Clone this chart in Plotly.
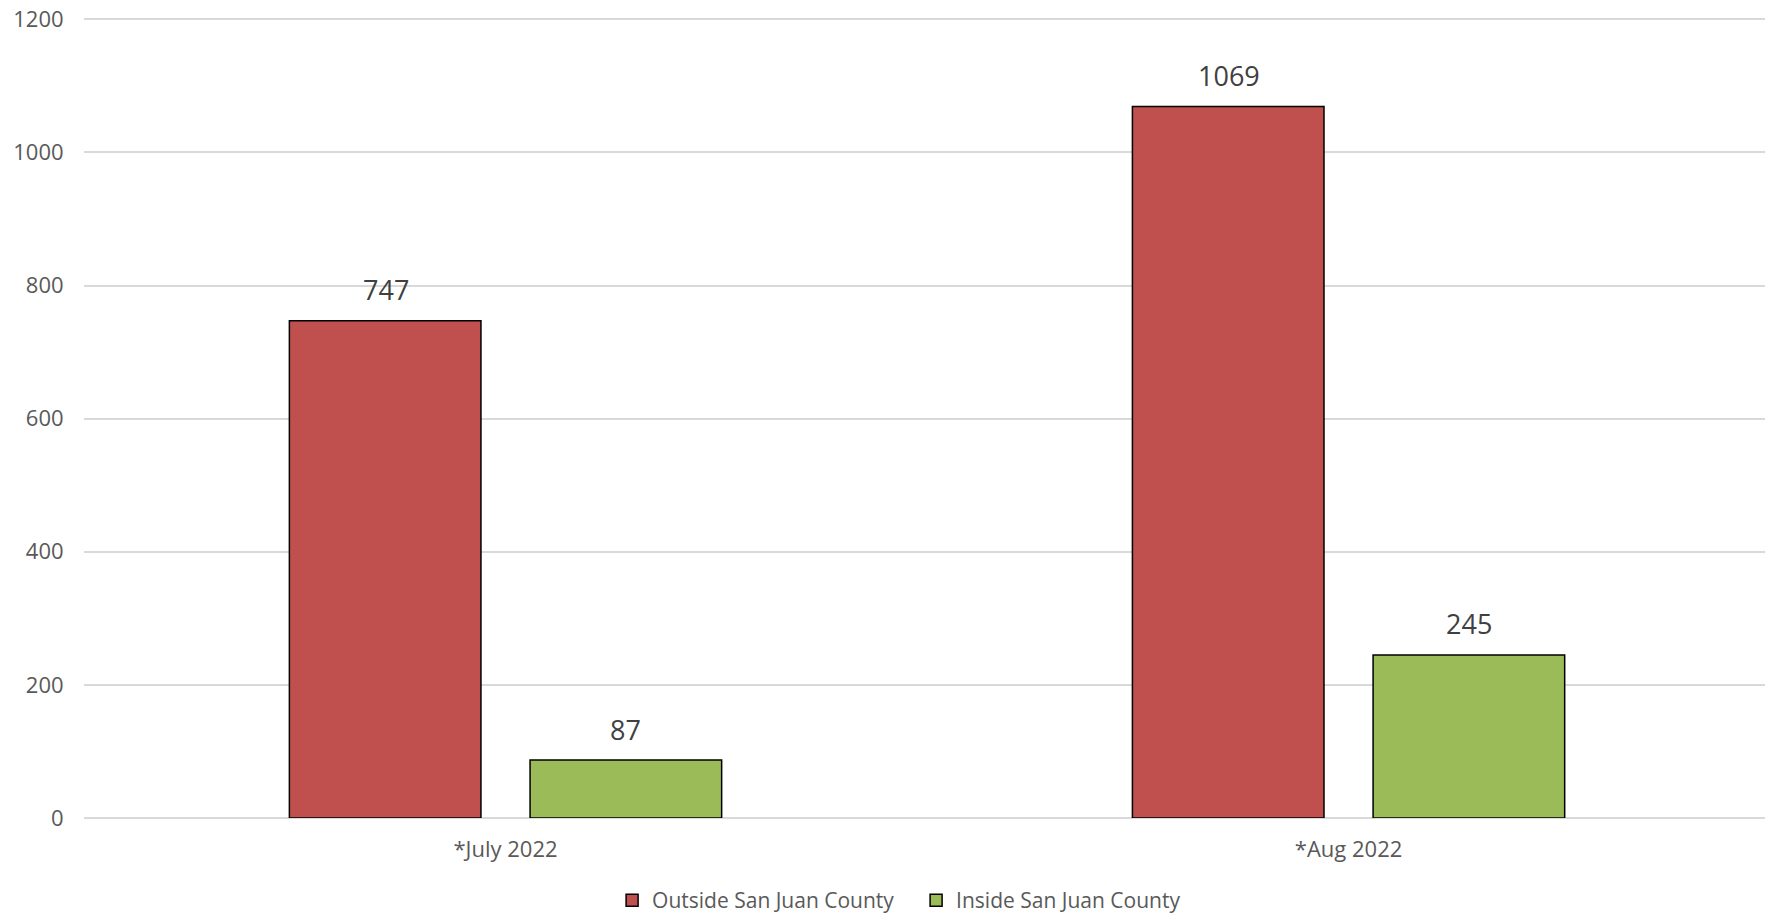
import plotly.graph_objects as go

categories = ["*July 2022", "*Aug 2022"]
outside_vals = [747, 1069]
inside_vals = [87, 245]
series_names = ["Outside San Juan County", "Inside San Juan County"]
y_ticks = [0, 200, 400, 600, 800, 1000, 1200]

FONT = "Open Sans"
colors = ["#C0504D", "#9BBB59"]
series_vals = [outside_vals, inside_vals]

fig = go.Figure()
for name, vals, color in zip(series_names, series_vals, colors):
    fig.add_trace(go.Bar(
        x=categories, y=vals, name=name,
        marker=dict(color=color, line=dict(color="#000000", width=1.5)),
    ))

# data labels above each bar
shifts = [-120, 120]
for vals, xs in zip(series_vals, shifts):
    for c, v in zip(categories, vals):
        fig.add_annotation(x=c, y=v, text=str(v), showarrow=False, xshift=xs,
                           yshift=31, yanchor="middle",
                           font=dict(family=FONT, size=27, color="#404040"))

fig.update_layout(
    width=1765, height=915,
    margin=dict(l=84, r=0, t=16, b=97, autoexpand=False),
    paper_bgcolor="white", plot_bgcolor="white",
    barmode="group", bargap=0.429, bargroupgap=0.204,
    font=dict(family=FONT, color="#595959"),
    legend=dict(orientation="h", x=0.495, xanchor="center", y=-0.103, yanchor="middle",
                font=dict(family=FONT, size=21, color="#595959"),
                itemwidth=30, entrywidth=259, traceorder="normal"),
    showlegend=True,
)
fig.update_yaxes(range=[0, 1205], tickvals=y_ticks, showgrid=True, gridcolor="#D9D9D9",
                 gridwidth=1.5, zeroline=True, zerolinecolor="#D9D9D9", zerolinewidth=1.5,
                 ticks="outside", ticklen=15, tickcolor="rgba(0,0,0,0)",
                 tickfont=dict(family=FONT, size=22, color="#595959"), showline=False)
fig.update_xaxes(range=[-0.5, 1.494], showline=False, ticks="outside", ticklen=12,
                 tickcolor="rgba(0,0,0,0)",
                 tickfont=dict(family=FONT, size=22, color="#595959"))

fig.write_html("out.html", config={"displayModeBar": False},
               post_script="document.body.style.margin='0';document.body.style.overflow='hidden';")
